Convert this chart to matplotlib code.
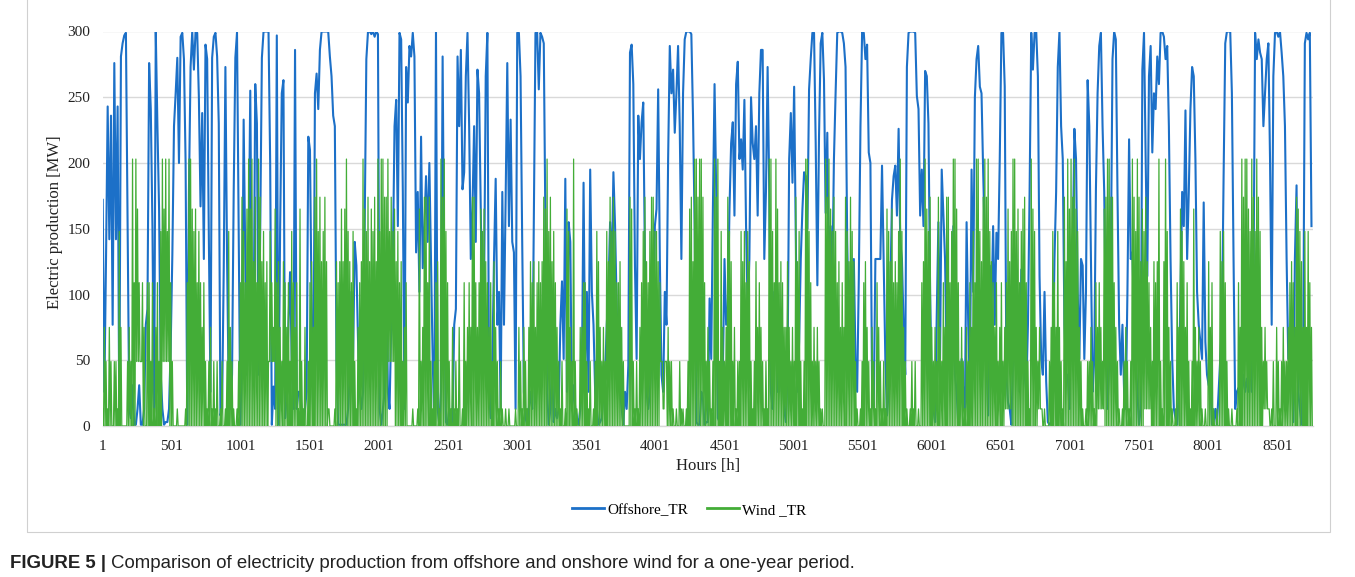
import numpy as np
import matplotlib
matplotlib.use("Agg")
import matplotlib.pyplot as plt
from matplotlib.patches import Rectangle

# ---------------- data ----------------
sample_step_h = 12          # resolution at which the picture was read
low_step_h = 48             # resolution of the green band's lower edge
x_tick_labels = ["1", "501", "1001", "1501", "2001", "2501", "3001", "3501", "4001",
                 "4501", "5001", "5501", "6001", "6501", "7001", "7501", "8001", "8501"]
y_ticks = [0, 50, 100, 150, 200, 250, 300]
series_names = ["Offshore_TR", "Wind _TR"]

offshore_tr = [
    172,26,127,243,142,236,77,276,142,243,
    6,281,291,297,299,152,13,6,31,1,
    1,13,31,1,1,13,77,89,276,241,
    152,3,300,228,165,39,13,1,3,3,
    13,60,130,228,253,280,200,296,299,279,
    200,1,178,273,300,271,300,299,250,167,
    238,127,290,279,145,26,280,296,299,281,
    230,8,13,120,273,127,26,13,39,178,
    280,299,152,1,51,233,127,39,127,255,
    77,60,260,230,39,
    150,280,300,300,300,300,200,1,30,13,
    297,1,150,253,263,6,26,77,117,51,
    13,286,13,26,26,13,1,13,26,220,
    210,89,1,253,268,241,286,300,300,300,
    300,300,281,266,236,228,51,1,1,1,
    1,1,1,13,39,102,51,140,122,64,
    26,13,26,152,279,300,300,298,300,296,
    300,298,13,1,13,26,127,26,13,77,
    127,228,248,152,299,294,178,13,273,246,
    289,281,299,281,132,178,102,220,120,152,
    190,140,200,127,51,1,300,13,1,26,
    281,102,3,1,13,6,3,77,89,281,
    228,286,180,193,266,299,228,127,165,228,
    140,271,253,165,64,102,266,299,26,6,
    51,127,188,77,102,13,178,77,172,276,
    152,233,140,132,13,299,299,266,140,26,
    6,1,13,26,13,152,299,300,256,299,
    296,291,152,26,1,13,46,3,13,6,
    13,77,110,51,188,26,155,140,13,31,
    13,6,1,13,39,185,39,102,26,195,
    102,77,26,13,1,3,6,26,39,77,
    102,155,114,193,152,89,51,26,13,1,
    26,13,46,284,290,260,122,51,236,203,
    231,246,127,26,13,26,51,77,152,165,
    256,127,39,26,102,77,203,289,253,271,
    223,253,289,228,127,253,294,300,300,300,
    298,236,152,3,1,1,26,21,1,3,
    3,97,51,165,260,178,6,3,13,39,
    127,77,90,165,215,231,160,260,277,203,
    218,195,248,152,87,127,250,215,203,228,
    160,253,286,286,127,178,273,178,26,13,
    102,77,26,26,64,39,13,3,39,203,
    238,185,258,140,26,64,127,165,193,190,
    150,256,279,299,299,215,107,220,291,299,
    263,162,223,102,152,109,203,253,299,300,
    300,299,291,273,140,77,51,46,127,51,
    26,112,228,300,299,279,290,208,200,26,
    13,127,127,127,127,198,122,51,8,26,
    102,172,190,198,160,226,140,127,77,39,
    273,299,300,300,300,299,251,241,160,195,
    152,270,266,230,102,26,13,3,84,155,
    51,195,160,127,51,102,39,51,152,39,
    26,1,13,51,26,13,155,77,26,195,
    102,250,279,289,258,253,193,140,51,8,
    122,89,152,77,147,127,203,299,299,258,
    40,18,13,1,51,56,39,77,26,119,
    77,39,26,77,178,299,271,299,300,266,
    114,51,39,102,34,3,1,3,39,127,
    178,273,300,228,203,77,39,39,13,102,
    127,226,203,102,51,127,122,51,102,263,
    228,127,26,51,180,253,289,299,228,178,
    77,13,51,127,279,300,294,178,77,39,
    77,26,13,102,218,127,132,82,51,26,
    1,13,271,299,203,114,266,289,208,253,
    241,281,260,299,300,296,279,289,228,127,
    51,13,6,1,26,102,178,152,240,127,
    178,241,273,266,203,102,77,64,51,170,
    64,39,31,51,1,3,13,1,26,51,
    77,190,291,300,300,300,253,127,13,26,
    29,13,26,39,26,36,26,51,26,102,
    299,279,294,284,279,228,253,279,291,203,
    77,266,299,300,296,300,284,266,228,127,
    51,51,64,3,127,183,26,13,1,51,
    291,299,294,299,152,
]

# upper edge of the green band in each 12-hour window
wind_tr_high = [
    13,75,49,13,75,49,0,49,
    49,13,148,75,0,0,0,49,75,49,
    203,109,203,165,109,49,109,75,0,109,
    109,49,109,13,75,109,49,148,203,165,
    203,148,203,109,49,0,0,13,0,0,
    0,0,13,109,203,203,165,148,165,109,
    148,109,75,109,49,13,49,75,13,49,
    13,49,0,13,49,0,13,49,148,75,
    49,13,0,13,49,109,174,148,109,165,
    203,165,203,125,174,109,
    203,174,125,148,109,125,49,148,109,75,
    165,109,125,75,49,125,109,75,109,49,
    148,109,75,109,13,165,49,13,75,0,
    49,109,125,75,174,203,148,174,125,148,
    174,125,13,0,0,0,13,125,109,125,
    165,125,165,203,148,125,109,148,49,13,
    75,109,125,203,165,148,174,125,165,148,
    174,125,203,148,203,203,174,174,203,148,
    174,148,165,125,148,109,125,49,75,109,
    0,0,0,13,0,0,13,165,49,75,
    174,174,109,174,49,13,49,109,125,13,
    203,174,203,148,109,49,13,75,13,49,
    13,75,0,13,109,49,75,109,75,174,
    174,109,75,109,165,148,165,125,109,75,
    109,49,125,75,49,13,49,13,0,13,
    0,13,0,0,0,13,0,75,49,13,
    75,49,13,75,125,109,125,75,109,125,
    109,125,174,165,203,148,174,125,148,109,
    75,49,13,49,0,13,165,148,75,49,
    203,49,13,0,75,75,109,109,49,13,
    49,0,13,49,148,125,75,49,75,49,
    148,125,174,148,174,148,109,109,125,75,
    49,0,0,0,174,165,49,13,49,13,
    75,109,148,174,125,109,148,174,174,148,
    148,125,109,49,13,49,49,75,49,49,
    13,0,13,0,49,13,13,0,13,49,
    165,174,125,203,203,174,203,203,174,109,
    49,75,49,13,49,203,174,203,49,148,
    75,49,75,174,148,125,49,75,13,49,
    49,148,125,148,109,148,125,49,13,49,
    125,75,109,75,49,13,49,13,203,203,
    148,109,203,165,109,125,109,75,75,125,
    75,49,75,49,174,125,148,49,13,49,
    203,203,148,109,49,75,49,75,49,13,
    13,0,203,174,203,165,148,174,148,109,
    125,75,109,75,174,148,125,174,148,125,
    49,13,0,13,49,109,125,75,49,13,
    75,49,13,109,75,49,13,49,13,165,
    148,125,165,109,125,109,148,203,148,75,
    49,13,0,13,49,13,49,0,13,0,
    109,125,203,165,148,174,75,49,75,49,
    174,75,49,109,75,174,174,109,148,203,
    203,165,109,49,75,49,13,75,49,109,
    75,148,109,203,203,148,125,174,203,174,
    203,148,125,109,75,109,49,75,109,49,
    75,109,165,125,148,203,203,148,165,109,
    148,165,174,109,49,13,203,165,148,75,
    49,75,13,0,13,0,0,49,75,148,
    109,75,148,75,49,13,174,125,203,165,
    203,174,203,165,148,75,49,13,0,13,
    49,49,75,49,13,109,75,109,75,49,
    165,174,203,203,174,174,109,75,49,13,
    0,13,49,75,49,13,49,203,174,148,
    203,174,125,165,148,174,125,109,75,49,
    125,109,125,203,49,13,125,203,148,75,
    49,13,0,13,109,75,165,148,125,75,
    109,49,13,49,165,75,49,75,49,13,
    0,13,0,125,75,109,13,0,13,0,
    148,125,148,109,49,13,0,13,0,0,
    13,109,75,203,174,203,203,165,148,203,
    174,148,203,174,148,75,49,75,49,13,
    0,13,49,0,75,49,13,49,75,49,
    49,75,109,125,109,75,174,165,148,125,
    75,148,75,148,109,75,
]

# lower edge of the green band, one value per 48 hours
wind_tr_low = [
    0,0,0,0,0,49,0,0,0,49,0,0,0,0,0,0,0,0,0,0,0,0,0,0,
    0,49,0,0,0,0,0,0,0,0,49,0,0,0,0,0,0,0,0,49,0,0,0,
    0,0,0,0,0,0,0,0,0,0,0,0,0,0,0,0,0,0,0,0,0,0,0,
    0,0,0,0,0,0,0,0,0,0,0,0,0,0,49,0,0,0,0,0,0,0,0,
    0,0,0,0,0,0,0,0,0,0,0,0,0,0,0,0,0,0,0,0,0,0,0,
    0,0,0,0,0,0,0,0,0,0,0,0,0,0,0,0,0,0,0,0,13,0,0,
    0,0,13,0,0,0,0,0,0,0,0,13,0,0,0,0,0,0,13,0,0,0,0,
    0,0,0,0,0,0,0,0,0,0,0,0,0,13,0,0,0,0,0,0,0,
]

# ---------------- figure ----------------
W, H = 1355, 577
fig = plt.figure(figsize=(W / 100, H / 100), dpi=100)
fig.patch.set_facecolor("white")

serif = ["Liberation Serif", "DejaVu Serif"]
sans = ["Liberation Sans", "DejaVu Sans"]

fig.patches.append(Rectangle((27 / W, 1 - 532 / H), (1330 - 27) / W, 532 / H + 0.01,
                             transform=fig.transFigure, fill=False,
                             edgecolor="#d0d0d0", linewidth=0.8))

ax_l, ax_r = 102.7, 1313.0
ax_t, ax_b = 31.5, 426.0
ax = fig.add_axes([ax_l / W, 1 - ax_b / H, (ax_r - ax_l) / W, (ax_b - ax_t) / H])

hours_off = 1 + sample_step_h * np.arange(len(offshore_tr))
n = len(wind_tr_high)
hours_w = 1 + sample_step_h * np.arange(n)
high = np.asarray(wind_tr_high, float)
low = np.repeat(np.asarray(wind_tr_low, float), low_step_h // sample_step_h)[:n]
low = np.minimum(low, high)
# the green series swings between the band edges inside every window
wx = np.column_stack([hours_w, hours_w + sample_step_h / 2]).ravel()
wy = np.column_stack([high, low]).ravel()

blue = "#1c70c8"
green = "#43ad37"
ax.plot(hours_off, offshore_tr, color=blue, lw=1.5, label=series_names[0], zorder=3)
ax.plot(wx, wy, color=green, lw=0.9, label=series_names[1], zorder=4)

ax.set_xlim(1, 8760)
ax.set_ylim(0, 300)
ax.set_yticks(y_ticks)
ax.set_yticklabels([str(v) for v in y_ticks], fontfamily=serif, fontsize=11)
ax.set_xticks([int(s) for s in x_tick_labels])
ax.set_xticklabels(x_tick_labels, fontfamily=serif, fontsize=11)
ax.tick_params(axis="both", length=0, colors="#222222")
ax.tick_params(axis="x", pad=10)
ax.tick_params(axis="y", pad=9)
ax.grid(axis="y", color="#d9d9d9", linewidth=1.0, zorder=0)
ax.set_axisbelow(True)
for s in ["top", "right", "left"]:
    ax.spines[s].set_visible(False)
ax.spines["bottom"].set_color("#d9d9d9")
ax.spines["bottom"].set_linewidth(1.0)
ax.spines["bottom"].set_zorder(1)

fig.text(55 / W, 1 - 222 / H, "Electric production [MW]", rotation=90,
         ha="center", va="center", fontfamily=serif, fontsize=12, color="#222222")
fig.text(708 / W, 1 - 466 / H, "Hours [h]", ha="center", va="center",
         fontfamily=serif, fontsize=12, color="#222222")

leg = fig.legend(loc="center", bbox_to_anchor=(689 / W, 1 - 510 / H), ncol=2,
                 frameon=False, prop={"family": serif, "size": 11},
                 handlelength=2.1, columnspacing=1.25, handletextpad=0.2)
for line in leg.get_lines():
    line.set_linewidth(2.0)

cap_y = 1 - 563 / H
cap1 = fig.text(10 / W, cap_y, "FIGURE 5 |", ha="left", va="center",
                fontfamily=sans, fontsize=13.4, fontweight="bold", color="#222222")
fig.canvas.draw()
bb = cap1.get_window_extent()
fig.text((bb.x1 + 5) / W, cap_y,
         "Comparison of electricity production from offshore and onshore wind for a one-year period.",
         ha="left", va="center", fontfamily=sans, fontsize=13.4, color="#222222")

fig.savefig("out.png", dpi=100, facecolor="white")
